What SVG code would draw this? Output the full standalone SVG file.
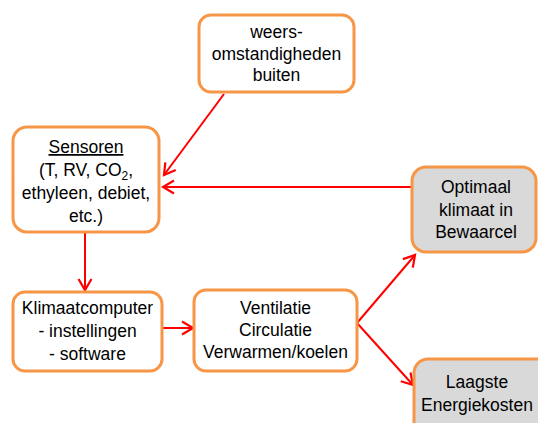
<svg xmlns="http://www.w3.org/2000/svg" width="538" height="423" viewBox="0 0 538 423">
<defs>
<marker id="arr" markerUnits="userSpaceOnUse" markerWidth="16" markerHeight="16" refX="12" refY="7" orient="auto" viewBox="0 0 16 14">
<path d="M1,0.5 L12,7 L1,13.5" fill="none" stroke="#FF0000" stroke-width="2.2"/>
</marker>
<style>
.box{fill:#FFFFFF;stroke:#F79646;stroke-width:3;}
.grey{fill:#D9D9D9;}
.t{font-family:"Liberation Sans",Arial,sans-serif;font-size:17.5px;fill:#000;text-anchor:middle;}
.c{stroke:#FF0000;stroke-width:2;fill:none;marker-end:url(#arr);}
</style>
</defs>
<rect width="538" height="423" fill="#FFFFFF"/>
<g id="connectors">
<line class="c" x1="224" y1="94" x2="164" y2="175"/>
<line class="c" x1="412" y1="187" x2="163" y2="187"/>
<line class="c" x1="85" y1="233" x2="85" y2="290"/>
<line class="c" x1="162" y1="328" x2="193" y2="328"/>
<line class="c" x1="357" y1="323" x2="415" y2="255"/>
<line class="c" x1="357" y1="323" x2="413" y2="385"/>
</g>
<g id="weers">
<rect class="box" x="199" y="15" width="155" height="77" rx="12"/>
<text class="t" x="276.5" y="38">weers-</text>
<text class="t" x="276.5" y="59.5">omstandigheden</text>
<text class="t" x="276.5" y="81">buiten</text>
</g>
<g id="sensoren">
<rect class="box" x="13" y="127" width="146" height="105" rx="14"/>
<text class="t" x="86" y="153" text-decoration="underline">Sensoren</text>
<text class="t" x="86" y="176">(T, RV, CO<tspan font-size="12" dy="4">2</tspan><tspan dy="-4">,</tspan></text>
<text class="t" x="86" y="199">ethyleen, debiet,</text>
<text class="t" x="86" y="222">etc.)</text>
</g>
<g id="optimaal">
<rect class="box grey" x="412" y="167" width="124" height="85" rx="14"/>
<text class="t" x="476" y="193">Optimaal</text>
<text class="t" x="476" y="216">klimaat in</text>
<text class="t" x="476" y="238">Bewaarcel</text>
</g>
<g id="klimaatcomputer">
<rect class="box" x="13" y="292" width="149" height="79" rx="12"/>
<text class="t" x="87.5" y="314">Klimaatcomputer</text>
<text class="t" x="87.5" y="337">- instellingen</text>
<text class="t" x="87.5" y="360">- software</text>
</g>
<g id="ventilatie">
<rect class="box" x="194" y="290" width="163" height="81" rx="12"/>
<text class="t" x="275.5" y="314">Ventilatie</text>
<text class="t" x="275.5" y="336">Circulatie</text>
<text class="t" x="275.5" y="358">Verwarmen/koelen</text>
</g>
<g id="laagste">
<rect class="box grey" x="414" y="359" width="140" height="80" rx="14"/>
<text class="t" x="477" y="388">Laagste</text>
<text class="t" x="477" y="411">Energiekosten</text>
</g>
</svg>
